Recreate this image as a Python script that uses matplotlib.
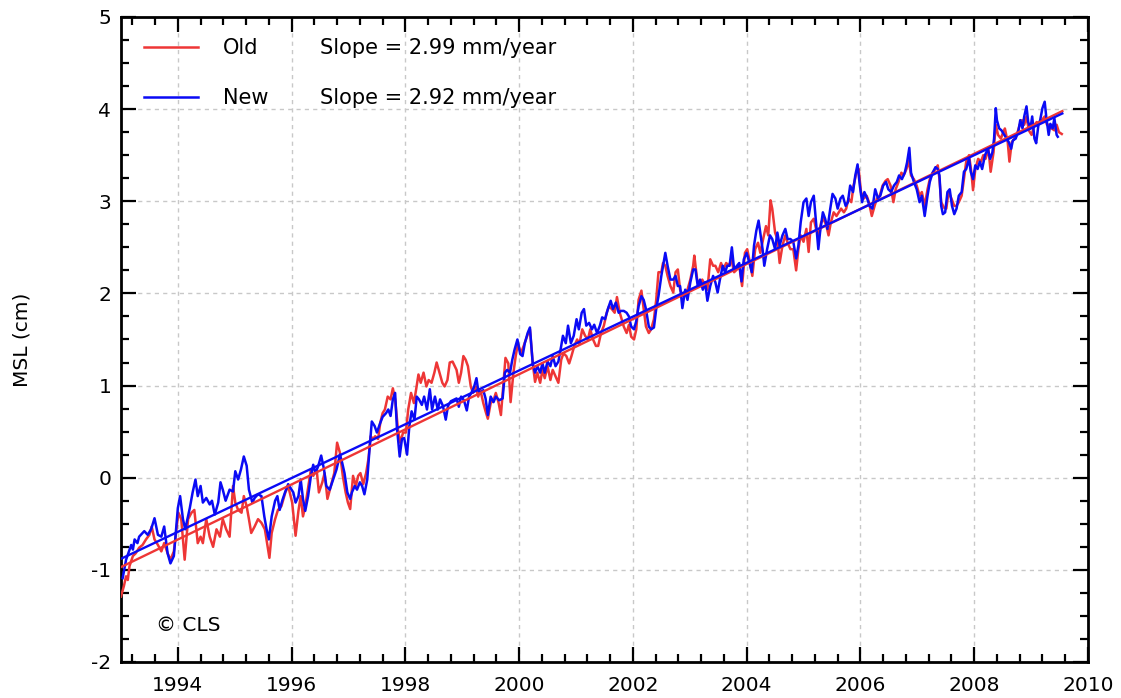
import numpy as np
import matplotlib
matplotlib.use('Agg')
import matplotlib.pyplot as plt
from matplotlib.ticker import MultipleLocator, FormatStrFormatter

# ---------------- data ----------------
old_years = [
    1993.00, 1993.05, 1993.09, 1993.12, 1993.15, 1993.21, 1993.26, 1993.32, 1993.38, 1993.44,
    1993.50, 1993.54, 1993.59, 1993.65, 1993.71, 1993.76, 1993.82, 1993.87, 1993.93, 1994.01,
    1994.06, 1994.12, 1994.18, 1994.24, 1994.29, 1994.35, 1994.40, 1994.44, 1994.50, 1994.56,
    1994.62, 1994.68, 1994.74, 1994.79, 1994.85, 1994.91, 1994.97, 1995.01, 1995.06, 1995.12,
    1995.16, 1995.21, 1995.25, 1995.29, 1995.35, 1995.41, 1995.47, 1995.53, 1995.58, 1995.61,
    1995.65, 1995.71, 1995.76, 1995.82, 1995.89, 1995.94,
    1996.01, 1996.07, 1996.12, 1996.16, 1996.20, 1996.24, 1996.29, 1996.34, 1996.38, 1996.44,
    1996.48, 1996.54, 1996.58, 1996.63, 1996.69, 1996.75, 1996.80, 1996.85, 1996.90, 1996.95,
    1996.99, 1997.03, 1997.08, 1997.13, 1997.17, 1997.21, 1997.26, 1997.31, 1997.35, 1997.39,
    1997.43, 1997.47, 1997.52, 1997.56, 1997.60, 1997.64, 1997.69, 1997.74, 1997.78, 1997.82,
    1997.87, 1997.91, 1997.96, 1998.01, 1998.05, 1998.10, 1998.15, 1998.19, 1998.23, 1998.27,
    1998.32, 1998.37, 1998.41, 1998.46, 1998.51, 1998.55, 1998.60, 1998.65, 1998.69, 1998.74,
    1998.78, 1998.83,
    1998.90, 1998.94, 1998.98, 1999.02, 1999.06, 1999.10, 1999.15, 1999.19, 1999.24, 1999.28,
    1999.32, 1999.37, 1999.41, 1999.45, 1999.50, 1999.55, 1999.59, 1999.64, 1999.68, 1999.72,
    1999.76, 1999.81, 1999.85, 1999.90, 1999.94, 1999.98, 2000.03, 2000.08, 2000.12, 2000.16,
    2000.19, 2000.24, 2000.28, 2000.32, 2000.37, 2000.41, 2000.45, 2000.50, 2000.55, 2000.59,
    2000.64, 2000.69, 2000.74, 2000.78, 2000.83, 2000.88, 2000.92, 2000.97, 2001.02, 2001.06,
    2001.11, 2001.16, 2001.21, 2001.25, 2001.30, 2001.35, 2001.39, 2001.44, 2001.49, 2001.54,
    2001.58, 2001.63, 2001.68, 2001.72, 2001.77,
    2001.84, 2001.89, 2001.93, 2001.97, 2002.02, 2002.06, 2002.10, 2002.15, 2002.19, 2002.23,
    2002.28, 2002.32, 2002.37, 2002.41, 2002.45, 2002.50, 2002.53, 2002.57, 2002.61, 2002.66,
    2002.71, 2002.75, 2002.79, 2002.83, 2002.88, 2002.92, 2002.96, 2003.01, 2003.06, 2003.08,
    2003.13, 2003.17, 2003.22, 2003.27, 2003.31, 2003.36, 2003.41, 2003.45, 2003.50, 2003.55,
    2003.59, 2003.64, 2003.69, 2003.73, 2003.78, 2003.83, 2003.87, 2003.92, 2003.97, 2004.01,
    2004.06, 2004.10, 2004.15, 2004.20, 2004.24, 2004.29, 2004.34, 2004.38, 2004.42, 2004.45,
    2004.50, 2004.54, 2004.58, 2004.63, 2004.68, 2004.72, 2004.77,
    2004.82, 2004.87, 2004.91, 2004.95, 2005.00, 2005.05, 2005.09, 2005.13, 2005.18, 2005.22,
    2005.26, 2005.31, 2005.35, 2005.40, 2005.44, 2005.48, 2005.53, 2005.58, 2005.62, 2005.66,
    2005.71, 2005.75, 2005.79, 2005.84, 2005.88, 2005.93, 2005.97, 2006.01, 2006.06, 2006.11,
    2006.15, 2006.20, 2006.25, 2006.29, 2006.34, 2006.39, 2006.44, 2006.48, 2006.53, 2006.58,
    2006.62, 2006.67, 2006.72, 2006.76, 2006.81, 2006.85, 2006.89, 2006.94, 2006.99, 2007.04,
    2007.08, 2007.13, 2007.18, 2007.22, 2007.27, 2007.32,
    2007.36, 2007.39, 2007.42, 2007.47, 2007.51, 2007.55, 2007.60, 2007.65, 2007.69, 2007.73,
    2007.78, 2007.82, 2007.86, 2007.91, 2007.95, 2007.98, 2008.02, 2008.07, 2008.12, 2008.16,
    2008.20, 2008.25, 2008.29, 2008.34, 2008.38, 2008.42, 2008.47, 2008.51, 2008.54, 2008.59,
    2008.62, 2008.66, 2008.71, 2008.75, 2008.80, 2008.84, 2008.88, 2008.92, 2008.96, 2009.01,
    2009.06, 2009.10, 2009.14, 2009.19, 2009.24, 2009.28, 2009.32, 2009.36, 2009.41, 2009.45,
    2009.49, 2009.54,
]
old_msl = [
    -1.29, -1.18, -1.07, -1.11, -0.96, -0.85, -0.82, -0.76, -0.73, -0.67,
    -0.62, -0.53, -0.67, -0.73, -0.80, -0.71, -0.82, -0.89, -0.80, -0.38,
    -0.45, -0.89, -0.45, -0.38, -0.35, -0.71, -0.64, -0.71, -0.45, -0.64,
    -0.75, -0.56, -0.64, -0.45, -0.56, -0.64, -0.09, -0.27, -0.35, -0.38,
    -0.20, -0.31, -0.45, -0.60, -0.53, -0.45, -0.49, -0.56, -0.75, -0.87,
    -0.60, -0.45, -0.35, -0.31, -0.16, -0.09,
    -0.27, -0.63, -0.36, -0.20, -0.42, -0.31, -0.11, 0.09, 0.02, 0.09,
    -0.16, -0.05, 0.05, -0.23, -0.09, 0.05, 0.38, 0.27, 0.02, -0.16,
    -0.27, -0.34, 0.02, -0.09, 0.02, 0.05, -0.07, 0.05, 0.20, 0.45,
    0.42, 0.45, 0.42, 0.60, 0.70, 0.74, 0.88, 0.85, 0.97, 0.85,
    0.52, 0.38, 0.49, 0.49, 0.74, 0.92, 0.81, 0.96, 1.12, 1.03,
    1.14, 0.99, 1.06, 1.03, 1.14, 1.25, 1.14, 1.03, 0.99, 1.06,
    1.25, 1.26,
    1.17, 1.03, 1.14, 1.32, 1.28, 1.21, 0.99, 0.92, 0.99, 0.88,
    0.95, 0.81, 0.72, 0.64, 0.81, 0.84, 0.92, 0.81, 0.68, 0.99,
    1.30, 1.24, 0.82, 1.14, 1.32, 1.46, 1.35, 1.43, 1.50, 1.57,
    1.61, 1.24, 1.04, 1.14, 1.03, 1.17, 1.08, 1.21, 1.06, 1.17,
    1.10, 1.03, 1.28, 1.35, 1.32, 1.24, 1.32, 1.43, 1.50, 1.45,
    1.61, 1.54, 1.50, 1.61, 1.50, 1.43, 1.43, 1.57, 1.65, 1.79,
    1.86, 1.83, 1.79, 1.96, 1.79,
    1.64, 1.57, 1.66, 1.53, 1.50, 1.61, 1.93, 2.03, 1.83, 1.64,
    1.57, 1.61, 1.72, 1.93, 2.23, 2.23, 2.33, 2.30, 2.19, 2.08,
    2.01, 2.23, 2.26, 2.04, 1.97, 2.01, 2.04, 2.15, 2.30, 2.41,
    2.15, 2.08, 2.15, 2.08, 2.04, 2.37, 2.30, 2.30, 2.23, 2.33,
    2.26, 2.33, 2.30, 2.37, 2.23, 2.26, 2.30, 2.08, 2.44, 2.48,
    2.33, 2.19, 2.48, 2.55, 2.44, 2.59, 2.73, 2.63, 3.01, 2.92,
    2.66, 2.59, 2.33, 2.52, 2.63, 2.55, 2.48,
    2.48, 2.25, 2.48, 2.63, 2.56, 2.70, 2.45, 2.77, 2.81, 2.70,
    2.63, 2.77, 2.81, 2.74, 2.63, 2.77, 2.88, 2.84, 2.88, 2.92,
    2.88, 2.92, 3.03, 2.99, 3.17, 3.31, 3.35, 3.10, 3.03, 3.06,
    2.99, 2.84, 2.95, 3.03, 3.06, 3.17, 3.22, 3.24, 3.17, 2.99,
    3.13, 3.21, 3.31, 3.28, 3.35, 3.44, 3.28, 3.24, 3.17, 3.06,
    3.10, 2.95, 3.13, 3.24, 3.31, 3.35,
    3.39, 3.24, 2.99, 2.93, 2.92, 3.10, 3.03, 2.95, 2.95, 2.99,
    3.06, 3.24, 3.43, 3.50, 3.32, 3.12, 3.35, 3.46, 3.43, 3.50,
    3.46, 3.57, 3.32, 3.53, 3.83, 3.72, 3.68, 3.75, 3.79, 3.64,
    3.43, 3.64, 3.68, 3.72, 3.83, 3.88, 3.83, 3.92, 3.77, 3.72,
    3.83, 3.86, 3.84, 3.88, 3.92, 3.83, 3.83, 3.79, 3.77, 3.83,
    3.75, 3.73,
]

new_years = [
    1993.03, 1993.09, 1993.13, 1993.18, 1993.21, 1993.24, 1993.29, 1993.32, 1993.35, 1993.41,
    1993.47, 1993.53, 1993.59, 1993.65, 1993.71, 1993.76, 1993.82, 1993.87, 1993.93, 1994.00,
    1994.04, 1994.09, 1994.13, 1994.21, 1994.26, 1994.31, 1994.35, 1994.40, 1994.44, 1994.50,
    1994.56, 1994.60, 1994.65, 1994.71, 1994.75, 1994.79, 1994.84, 1994.91, 1994.97, 1995.01,
    1995.06, 1995.11, 1995.16, 1995.21, 1995.25, 1995.31, 1995.35, 1995.41, 1995.47, 1995.52,
    1995.56, 1995.60, 1995.65, 1995.71, 1995.75, 1995.79, 1995.84, 1995.89, 1995.94,
    1996.03, 1996.07, 1996.12, 1996.16, 1996.20, 1996.24, 1996.29, 1996.34, 1996.38, 1996.42,
    1996.47, 1996.52, 1996.57, 1996.61, 1996.67, 1996.73, 1996.79, 1996.85, 1996.89, 1996.93,
    1996.98, 1997.03, 1997.06, 1997.11, 1997.15, 1997.20, 1997.24, 1997.28, 1997.33, 1997.37,
    1997.41, 1997.46, 1997.50, 1997.55, 1997.60, 1997.66, 1997.70, 1997.74, 1997.78, 1997.82,
    1997.85, 1997.90, 1997.94, 1997.98, 1998.03, 1998.07, 1998.11, 1998.16, 1998.20, 1998.24,
    1998.29, 1998.33, 1998.38, 1998.43, 1998.47, 1998.52, 1998.57, 1998.61, 1998.66, 1998.71,
    1998.75, 1998.80,
    1998.90, 1998.94, 1998.98, 1999.03, 1999.08, 1999.12, 1999.16, 1999.21, 1999.25, 1999.28,
    1999.32, 1999.37, 1999.41, 1999.45, 1999.50, 1999.55, 1999.59, 1999.65, 1999.71, 1999.75,
    1999.79, 1999.84, 1999.88, 1999.92, 1999.97, 2000.02, 2000.06, 2000.10, 2000.15, 2000.19,
    2000.24, 2000.28, 2000.32, 2000.37, 2000.41, 2000.45, 2000.50, 2000.55, 2000.59, 2000.64,
    2000.69, 2000.74, 2000.77, 2000.82, 2000.86, 2000.91, 2000.96, 2001.01, 2001.05, 2001.10,
    2001.14, 2001.18, 2001.23, 2001.28, 2001.32, 2001.37, 2001.42, 2001.46, 2001.51, 2001.56,
    2001.61, 2001.65, 2001.70, 2001.75, 2001.79,
    2001.84, 2001.89, 2001.93, 2001.97, 2002.02, 2002.06, 2002.10, 2002.15, 2002.19, 2002.23,
    2002.28, 2002.32, 2002.37, 2002.41, 2002.45, 2002.50, 2002.54, 2002.57, 2002.61, 2002.66,
    2002.71, 2002.75, 2002.79, 2002.83, 2002.87, 2002.92, 2002.96, 2003.01, 2003.06, 2003.10,
    2003.14, 2003.18, 2003.23, 2003.27, 2003.31, 2003.36, 2003.41, 2003.45, 2003.49, 2003.53,
    2003.58, 2003.62, 2003.66, 2003.70, 2003.74, 2003.78, 2003.83, 2003.87, 2003.91, 2003.95,
    2004.00, 2004.05, 2004.09, 2004.13, 2004.17, 2004.21, 2004.24, 2004.28, 2004.31, 2004.36,
    2004.41, 2004.45, 2004.50, 2004.54, 2004.58, 2004.63, 2004.68, 2004.72, 2004.77,
    2004.82, 2004.87, 2004.91, 2004.95, 2005.00, 2005.05, 2005.09, 2005.13, 2005.18, 2005.22,
    2005.26, 2005.29, 2005.34, 2005.38, 2005.42, 2005.47, 2005.51, 2005.56, 2005.60, 2005.65,
    2005.69, 2005.74, 2005.78, 2005.82, 2005.87, 2005.91, 2005.95, 2005.99, 2006.03, 2006.07,
    2006.12, 2006.16, 2006.21, 2006.26, 2006.31, 2006.35, 2006.40, 2006.45, 2006.49, 2006.54,
    2006.59, 2006.64, 2006.68, 2006.73, 2006.78, 2006.82, 2006.86, 2006.89, 2006.94, 2006.99,
    2007.04, 2007.08, 2007.13, 2007.18, 2007.22, 2007.27, 2007.32,
    2007.36, 2007.39, 2007.42, 2007.45, 2007.49, 2007.53, 2007.57, 2007.61, 2007.65, 2007.69,
    2007.73, 2007.78, 2007.82, 2007.86, 2007.91, 2007.94, 2007.98, 2008.02, 2008.06, 2008.10,
    2008.14, 2008.19, 2008.24, 2008.28, 2008.32, 2008.35, 2008.38, 2008.40, 2008.44, 2008.48,
    2008.53, 2008.57, 2008.61, 2008.65, 2008.68, 2008.73, 2008.78, 2008.81, 2008.85, 2008.88,
    2008.92, 2008.95, 2008.99, 2009.02, 2009.06, 2009.09, 2009.13, 2009.16, 2009.20, 2009.24,
    2009.27, 2009.31, 2009.34, 2009.38, 2009.41, 2009.45, 2009.47,
]
new_msl = [
    -1.09, -0.89, -0.82, -0.73, -0.78, -0.67, -0.71, -0.64, -0.62, -0.58,
    -0.62, -0.56, -0.44, -0.62, -0.64, -0.53, -0.82, -0.93, -0.85, -0.33,
    -0.20, -0.45, -0.56, -0.33, -0.16, -0.02, -0.20, -0.09, -0.27, -0.22,
    -0.29, -0.25, -0.40, -0.27, -0.05, -0.13, -0.25, -0.13, -0.15, 0.07,
    -0.02, 0.09, 0.23, 0.13, -0.13, -0.27, -0.22, -0.18, -0.20, -0.42,
    -0.56, -0.67, -0.42, -0.25, -0.20, -0.35, -0.24, -0.15, -0.07,
    -0.16, -0.27, -0.20, -0.02, -0.23, -0.36, -0.20, 0.02, 0.14, 0.05,
    0.13, 0.24, 0.09, -0.09, -0.13, -0.02, 0.09, 0.25, 0.16, 0.05,
    -0.16, -0.23, -0.16, -0.09, -0.13, -0.05, -0.09, -0.18, -0.02, 0.31,
    0.61, 0.56, 0.49, 0.58, 0.66, 0.70, 0.74, 0.67, 0.85, 0.92,
    0.56, 0.23, 0.42, 0.43, 0.25, 0.56, 0.72, 0.63, 0.88, 0.85,
    0.79, 0.88, 0.74, 0.96, 0.74, 0.88, 0.74, 0.85, 0.78, 0.63,
    0.78, 0.83,
    0.86, 0.77, 0.88, 0.84, 0.73, 0.88, 0.92, 0.99, 1.08, 0.95,
    0.92, 0.95, 0.86, 0.68, 0.88, 0.82, 0.88, 0.84, 0.86, 1.14,
    1.17, 1.14, 1.28, 1.39, 1.50, 1.34, 1.32, 1.46, 1.57, 1.63,
    1.23, 1.14, 1.21, 1.14, 1.24, 1.14, 1.26, 1.21, 1.32, 1.21,
    1.26, 1.43, 1.54, 1.46, 1.65, 1.46, 1.54, 1.72, 1.61, 1.79,
    1.83, 1.65, 1.68, 1.61, 1.66, 1.57, 1.65, 1.74, 1.72, 1.83,
    1.92, 1.83, 1.90, 1.79, 1.81,
    1.81, 1.79, 1.75, 1.64, 1.61, 1.70, 1.86, 1.97, 1.93, 1.83,
    1.64, 1.61, 1.63, 1.83, 1.97, 2.19, 2.33, 2.44, 2.30, 2.15,
    2.15, 2.19, 2.08, 2.08, 1.84, 2.04, 1.93, 2.12, 2.26, 2.26,
    2.08, 2.15, 2.04, 2.12, 1.92, 2.08, 2.19, 2.12, 2.01, 2.15,
    2.30, 2.23, 2.30, 2.30, 2.50, 2.26, 2.30, 2.33, 2.13, 2.37,
    2.44, 2.33, 2.23, 2.52, 2.68, 2.79, 2.66, 2.48, 2.30, 2.48,
    2.63, 2.59, 2.48, 2.66, 2.52, 2.63, 2.70, 2.59, 2.59,
    2.56, 2.38, 2.52, 2.77, 2.99, 3.03, 2.84, 2.99, 3.06, 2.77,
    2.48, 2.66, 2.88, 2.81, 2.70, 2.92, 3.08, 3.03, 2.92, 3.03,
    3.06, 2.95, 2.99, 3.17, 3.10, 3.28, 3.40, 3.17, 2.99, 3.10,
    3.03, 2.95, 2.92, 3.13, 3.03, 3.06, 3.17, 3.21, 3.13, 3.10,
    3.17, 3.21, 3.28, 3.24, 3.31, 3.42, 3.58, 3.31, 3.21, 3.13,
    2.99, 3.06, 2.84, 3.06, 3.21, 3.31, 3.37,
    3.35, 3.28, 2.95, 2.86, 2.88, 3.10, 3.13, 2.95, 2.86, 2.92,
    3.06, 3.10, 3.32, 3.35, 3.46, 3.32, 3.24, 3.39, 3.35, 3.43,
    3.35, 3.50, 3.57, 3.46, 3.53, 3.68, 4.01, 3.88, 3.79, 3.77,
    3.72, 3.68, 3.64, 3.57, 3.66, 3.68, 3.77, 3.88, 3.79, 3.92,
    4.03, 3.86, 3.79, 3.92, 3.68, 3.63, 3.83, 3.88, 4.01, 4.08,
    3.90, 3.72, 3.84, 3.79, 3.90, 3.72, 3.70,
]

series_labels = ['Old', 'New']
slopes_mm_per_year = [2.99, 2.92]          # linear trend slopes
trend_start_cm = [-0.97, -0.88]            # trend value at trend_years[0]
trend_years = [1993.0, 2009.55]
copyright_text = '\u00a9 CLS'

# ---------------- styling ----------------
RED = '#ee3636'
BLUE = '#0a0af5'
colors = [RED, BLUE]

fig = plt.figure(figsize=(11.21, 6.98), dpi=100)
ax = fig.add_axes([0.1079, 0.0516, 0.8626, 0.9241])

line_old, = ax.plot(old_years, old_msl, color=RED, lw=1.8, zorder=3)
line_new, = ax.plot(new_years, new_msl, color=BLUE, lw=1.8, zorder=4)

ty = np.array(trend_years)
for start, slope, col, z in zip(trend_start_cm, slopes_mm_per_year, colors, [5, 6]):
    ax.plot(ty, start + slope / 10.0 * (ty - ty[0]), color=col, lw=1.7, zorder=z)

ax.set_xlim(1993, 2010)
ax.set_ylim(-2, 5)
ax.xaxis.set_major_locator(MultipleLocator(2))
ax.xaxis.set_minor_locator(MultipleLocator(0.4))
ax.yaxis.set_major_locator(MultipleLocator(1))
ax.yaxis.set_minor_locator(MultipleLocator(0.25))
ax.xaxis.set_major_formatter(FormatStrFormatter('%d'))
ax.yaxis.set_major_formatter(FormatStrFormatter('%d'))

ax.tick_params(which='both', direction='in', top=True, right=True, width=1.6,
               color='black', labelsize=14.5)
ax.tick_params(which='major', length=11)
ax.tick_params(which='minor', length=5.8)
ax.tick_params(axis='x', which='major', pad=10)
ax.tick_params(axis='y', which='major', pad=7)
for s in ax.spines.values():
    s.set_linewidth(2)

ax.grid(True, which='major', linestyle=(0, (3, 3)), color='#c8c8c8', lw=1, zorder=0)
ax.set_axisbelow(True)

ax.set_ylabel('MSL (cm)', fontsize=14.5)
ax.yaxis.set_label_coords(-0.093, 0.5)

leg = ax.legend([line_old, line_new], series_labels, loc='upper left',
                bbox_to_anchor=(0.0238, 0.967), frameon=False, fontsize=15,
                handlelength=2.6, handletextpad=1.2, labelspacing=1.45,
                borderpad=0, borderaxespad=0)
for line in leg.get_lines():
    line.set_linewidth(1.8)

row_y = [0.952, 0.874]
for yy, slope in zip(row_y, slopes_mm_per_year):
    ax.text(0.206, yy, f'Slope = {slope:.2f} mm/year', transform=ax.transAxes,
            fontsize=15, va='center', ha='left')

ax.text(0.036, 0.056, copyright_text, transform=ax.transAxes, fontsize=14.5,
        va='center', ha='left')

fig.savefig('out.png', dpi=100)
